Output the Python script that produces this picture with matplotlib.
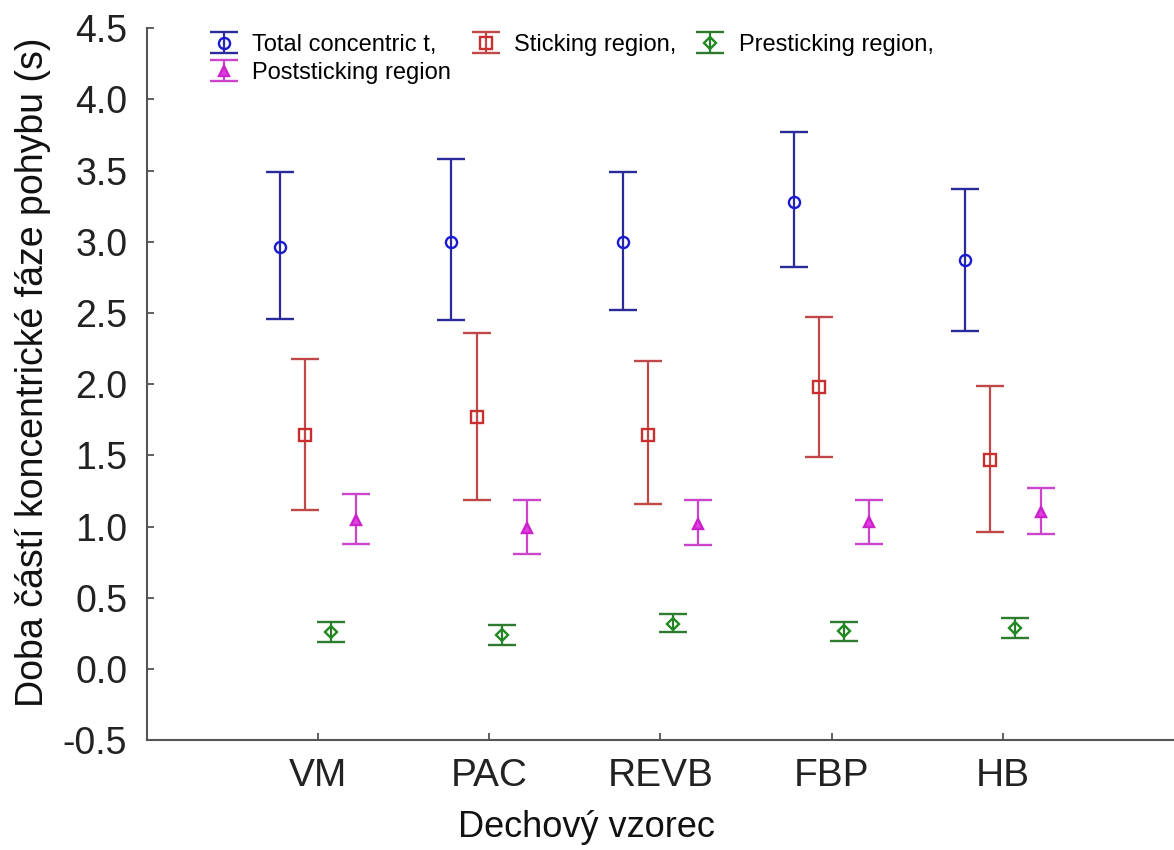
import matplotlib
matplotlib.use("Agg")
import matplotlib.pyplot as plt
from matplotlib.legend_handler import HandlerErrorbar
import numpy as np

categories = ["VM", "PAC", "REVB", "FBP", "HB"]

total_mean = [2.96, 3.00, 3.00, 3.28, 2.87]
total_low = [2.46, 2.45, 2.52, 2.82, 2.37]
total_high = [3.49, 3.58, 3.49, 3.77, 3.37]

stick_mean = [1.64, 1.77, 1.64, 1.98, 1.47]
stick_low = [1.12, 1.19, 1.16, 1.49, 0.96]
stick_high = [2.18, 2.36, 2.16, 2.47, 1.99]

pre_mean = [0.26, 0.24, 0.32, 0.27, 0.29]
pre_low = [0.19, 0.17, 0.26, 0.20, 0.22]
pre_high = [0.33, 0.31, 0.39, 0.33, 0.36]

post_mean = [1.05, 0.99, 1.02, 1.03, 1.10]
post_low = [0.88, 0.81, 0.87, 0.88, 0.95]
post_high = [1.23, 1.19, 1.19, 1.19, 1.27]

series = [
    ("Total concentric t,", total_mean, total_low, total_high, "o", "#2a2a9a", "#1a1ad0", "none", 8),
    ("Sticking region,", stick_mean, stick_low, stick_high, "s", "#c04848", "#c83030", "none", 8),
    ("Presticking region,", pre_mean, pre_low, pre_high, "D", "#2e7a2e", "#1f8a1f", "none", 6),
    ("Poststicking region", post_mean, post_low, post_high, "^", "#cc44cc", "#cc22cc", "#e040e0", 7),
]

fig = plt.figure(figsize=(11.74, 8.5), dpi=100)
ax = fig.add_axes([0.125, 0.129, 0.875, 0.838])

x = np.arange(len(categories))
handles = []
for i, (name, m, lo, hi, mk, lc, mc, fc, ms) in enumerate(series):
    m = np.array(m)
    err = [m - np.array(lo), np.array(hi) - m]
    xs = x + (i - 1.5) * 0.147
    h = ax.errorbar(xs, m, yerr=err, fmt=mk, color=lc, ecolor=lc, mec=mc, mfc=fc,
                    ms=ms, mew=1.7, elinewidth=1.6, capsize=10, capthick=1.6,
                    label=name)
    handles.append(h)

ax.set_xlim(-1, 5)
ax.set_ylim(-0.5, 4.5)
yt = np.arange(-0.5, 4.51, 0.5)
ax.set_yticks(yt)
ax.set_yticklabels([f"{v:.1f}" for v in yt], fontsize=27,
                   family=["Liberation Sans", "DejaVu Sans"])
ax.set_xticks(x)
ax.set_xticklabels(categories, fontsize=28, family=["Liberation Sans", "DejaVu Sans"])
ax.tick_params(axis="both", direction="in", length=5, width=1.2, colors="#444444",
               labelcolor="#222222")
ax.tick_params(axis="x", pad=13)
ax.tick_params(axis="y", pad=14)
for s in ["top", "right"]:
    ax.spines[s].set_visible(False)
for s in ["left", "bottom"]:
    ax.spines[s].set_color("#555555")
    ax.spines[s].set_linewidth(1.5)

ax.set_ylabel("Doba částí koncentrické fáze pohybu (s)", fontsize=27,
              family=["Liberation Sans", "DejaVu Sans"],
              color="#111111")
ax.yaxis.set_label_coords(-0.093, 0.517)
ax.set_xlabel("Dechový vzorec", fontsize=26, family=["Liberation Sans", "DejaVu Sans"],
              color="#111111")
ax.xaxis.set_label_coords(0.428, -0.098)

order = [0, 3, 1, 2]
leg = ax.legend([handles[k] for k in order], [series[k][0] for k in order],
                ncol=3, loc="upper left", bbox_to_anchor=(0.05, 1.005),
                frameon=False, handlelength=1.4, handletextpad=0.5,
                columnspacing=0.75, labelspacing=0.25, borderaxespad=0,
                handler_map={type(handles[0]): HandlerErrorbar(yerr_size=0.45)},
                prop={"family": ["Liberation Sans", "DejaVu Sans"], "size": 17})

fig.savefig("out.png", dpi=100)
